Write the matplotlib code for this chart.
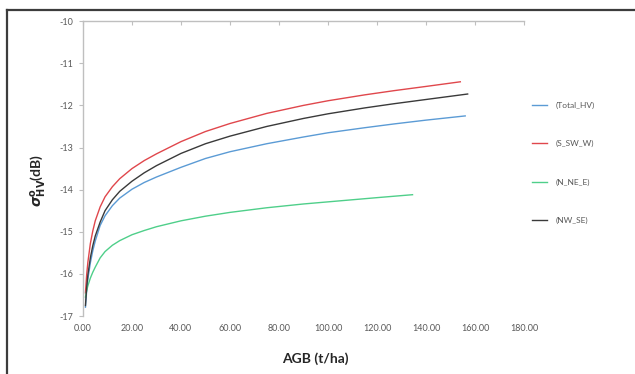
import matplotlib
matplotlib.use("Agg")
import matplotlib.pyplot as plt
from matplotlib.lines import Line2D
from matplotlib.ticker import FormatStrFormatter

plt.rcParams['font.family'] = ['Lato', 'DejaVu Sans']
plt.rcParams['axes.unicode_minus'] = False

# values
x_total = [1, 1.5, 2, 3, 4, 5, 7, 9, 12, 15, 20, 25, 30, 40, 50, 60, 75, 90, 100, 115, 127, 140, 156]
total_hv = [-16.79, -16.40, -16.12, -15.74, -15.45, -15.22, -14.85, -14.62, -14.38, -14.20, -13.99,
            -13.83, -13.70, -13.47, -13.26, -13.10, -12.91, -12.75, -12.65, -12.53, -12.44, -12.35, -12.25]

x_ssw = [1, 1.5, 2, 3, 4, 5, 7, 9, 12, 15, 20, 25, 30, 40, 50, 60, 75, 90, 100, 115, 127, 140, 154]
s_sw_w = [-16.45, -16.02, -15.72, -15.28, -14.98, -14.74, -14.41, -14.17, -13.93, -13.74, -13.50,
          -13.31, -13.15, -12.86, -12.62, -12.43, -12.19, -12.00, -11.89, -11.75, -11.65, -11.55, -11.44]

x_nne = [1, 1.5, 2, 3, 4, 5, 7, 9, 12, 15, 20, 25, 30, 40, 50, 60, 75, 90, 100, 110, 120, 134.5]
n_ne_e = [-16.55, -16.40, -16.28, -16.10, -15.96, -15.84, -15.62, -15.47, -15.32, -15.21, -15.07,
          -14.97, -14.88, -14.74, -14.63, -14.54, -14.43, -14.34, -14.29, -14.24, -14.19, -14.12]

x_nwse = [1, 1.5, 2, 3, 4, 5, 7, 9, 12, 15, 20, 25, 30, 40, 50, 60, 75, 90, 100, 115, 127, 140, 157]
nw_se = [-16.75, -16.32, -16.02, -15.62, -15.33, -15.10, -14.77, -14.50, -14.24, -14.04, -13.80,
         -13.60, -13.43, -13.14, -12.91, -12.73, -12.50, -12.31, -12.20, -12.06, -11.96, -11.86, -11.73]

labels = ['(Total_HV)', '(S_SW_W)', '(N_NE_E)', '(NW_SE)']
colors = ['#5b9bd5', '#e0474c', '#4fcf8a', '#3a3a3a']

fig = plt.figure(figsize=(6.35, 3.74), dpi=100)
ax = fig.add_axes([0.1307, 0.155, 0.6945, 0.7885])

ax.plot(x_total, total_hv, color=colors[0], lw=1.0, label=labels[0])
ax.plot(x_ssw, s_sw_w, color=colors[1], lw=1.0, label=labels[1])
ax.plot(x_nne, n_ne_e, color=colors[2], lw=1.0, label=labels[2])
ax.plot(x_nwse, nw_se, color=colors[3], lw=1.0, label=labels[3])

ax.set_xlim(0, 180)
ax.set_ylim(-17, -10)
ax.set_xticks(range(0, 181, 20))
ax.set_yticks(range(-17, -9))
ax.xaxis.set_major_formatter(FormatStrFormatter('%.2f'))

# axis line sits on top (crosses at -10), labels at the bottom
for s in ['bottom', 'right']:
    ax.spines[s].set_visible(False)
for s in ['top', 'left']:
    ax.spines[s].set_color('#bfbfbf')
    ax.spines[s].set_linewidth(1.0)
ax.tick_params(axis='x', top=True, bottom=False, labelbottom=True, labeltop=False,
               direction='in', length=3, color='#bfbfbf', labelsize=6.5,
               labelcolor='#595959', pad=6)
ax.tick_params(axis='y', direction='out', length=3, color='#bfbfbf', labelsize=6.5,
               labelcolor='#595959', pad=4)

ax.set_xlabel('AGB (t/ha)', fontsize=10, fontweight='bold', color='#262626')
ax.xaxis.set_label_coords(0.526, -0.122)
ax.set_ylabel(r'$\boldsymbol{\sigma}^{\mathbf{o}}_{\mathbf{HV}}$(dB)', fontsize=10,
              fontweight='bold', color='#262626')
ax.yaxis.set_label_coords(-0.077, 0.461)

leg = ax.legend(loc='upper left', bbox_to_anchor=(1.0, 0.752), frameon=False,
                fontsize=6, labelspacing=3.75, handlelength=1.9, handletextpad=1.0)
for t in leg.get_texts():
    t.set_color('#595959')

# chart area frame (only top and left edges visible in the crop)
fig.add_artist(Line2D([7 / 635, 1.0], [1 - 10 / 374, 1 - 10 / 374],
                      transform=fig.transFigure, color='#3c3c3c', lw=1.6))
fig.add_artist(Line2D([7 / 635, 7 / 635], [0.0, 1 - 10 / 374],
                      transform=fig.transFigure, color='#3c3c3c', lw=1.6))

fig.savefig('out.png', dpi=100)
